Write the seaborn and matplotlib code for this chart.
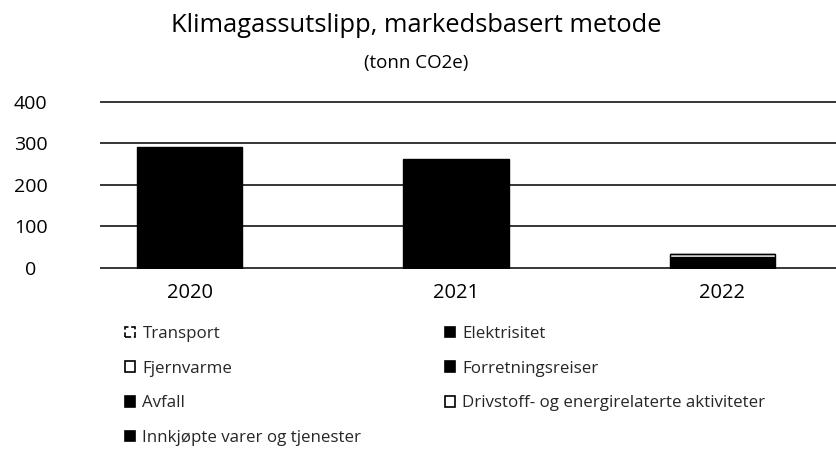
import matplotlib
matplotlib.use("Agg")
import matplotlib.pyplot as plt
from matplotlib.patches import Patch
import numpy as np
import pandas as pd
import seaborn as sns

# Emissions by category and year (tonn CO2e), stacked bottom to top
years = ["2020", "2021", "2022"]
categories = [
    "Transport",
    "Elektrisitet",
    "Fjernvarme",
    "Forretningsreiser",
    "Avfall",
    "Drivstoff- og energirelaterte aktiviteter",
    "Innkjøpte varer og tjenester",
]
transport = [0, 0, 0]
elektrisitet = [45, 40, 8]
fjernvarme = [0, 0, 2]
forretningsreiser = [150, 130, 12]
avfall = [5, 4, 5]
drivstoff = [0, 0, 7]
innkjopte = [92, 88, 0]

series = [transport, elektrisitet, fjernvarme, forretningsreiser,
          avfall, drivstoff, innkjopte]
fills = ["white", "black", "white", "black", "black", "white", "black"]
edge_styles = ["--", "-", "-", "-", "-", "-", "-"]

# Legend columns as laid out under the chart
legend_left = ["Transport", "Fjernvarme", "Avfall", "Innkjøpte varer og tjenester"]
legend_right = ["Elektrisitet", "Forretningsreiser",
                "Drivstoff- og energirelaterte aktiviteter"]

sns.set_theme(style="white")
plt.rcParams["font.family"] = ["Open Sans", "DejaVu Sans"]

df = pd.DataFrame({cat: vals for cat, vals in zip(categories, series)}, index=years)

fig = plt.figure(figsize=(8.37, 4.5), dpi=100)
ax = fig.add_axes([100 / 837, 0.4017, 1 - 100 / 837, 0.3764])

bottoms = np.zeros(len(years))
for cat, fc, ls in zip(categories, fills, edge_styles):
    vals = df[cat].to_numpy(dtype=float)
    sns.barplot(x=years, y=vals, bottom=bottoms, color=fc, saturation=1,
                edgecolor="black", linewidth=1.0, linestyle=ls,
                width=0.395, ax=ax, zorder=3)
    bottoms = bottoms + vals

ax.set_xlim(-0.338, 2.432)
ax.set_ylim(-3, 405)
ax.set_yticks([0, 100, 200, 300, 400])
ax.yaxis.grid(True, color="black", linewidth=1.1, zorder=0)
ax.xaxis.grid(False)
ax.set_axisbelow(True)
for s in ax.spines.values():
    s.set_visible(False)
ax.set_xlabel("")
ax.set_ylabel("")
ax.tick_params(axis="y", length=0, pad=50, labelsize=14, labelcolor="black")
ax.tick_params(axis="x", length=0, pad=10, labelsize=14.5, labelcolor="black")
for lbl in ax.get_yticklabels():
    lbl.set_horizontalalignment("center")

fig.text(0.497, 1 - 25 / 450, "Klimagassutslipp, markedsbasert metode",
         ha="center", va="center", fontsize=18.4, color="black")
fig.text(0.497, 1 - 63 / 450, "(tonn CO2e)",
         ha="center", va="center", fontsize=13.5, color="black")


def handle(name):
    i = categories.index(name)
    return Patch(facecolor=fills[i], edgecolor="black", linewidth=1.2,
                 linestyle=edge_styles[i], label=name)


leg_kw = dict(loc="upper left", frameon=False, fontsize=12.2,
              handlelength=0.58, handleheight=0.58, handletextpad=0.45,
              labelspacing=1.1, borderpad=0, borderaxespad=0)
fig.legend(handles=[handle(n) for n in legend_left],
           bbox_to_anchor=(125 / 837, 1 - 326 / 450), **leg_kw)
fig.legend(handles=[handle(n) for n in legend_right],
           bbox_to_anchor=(445 / 837, 1 - 326 / 450), **leg_kw)

fig.savefig("out.png", dpi=100)
